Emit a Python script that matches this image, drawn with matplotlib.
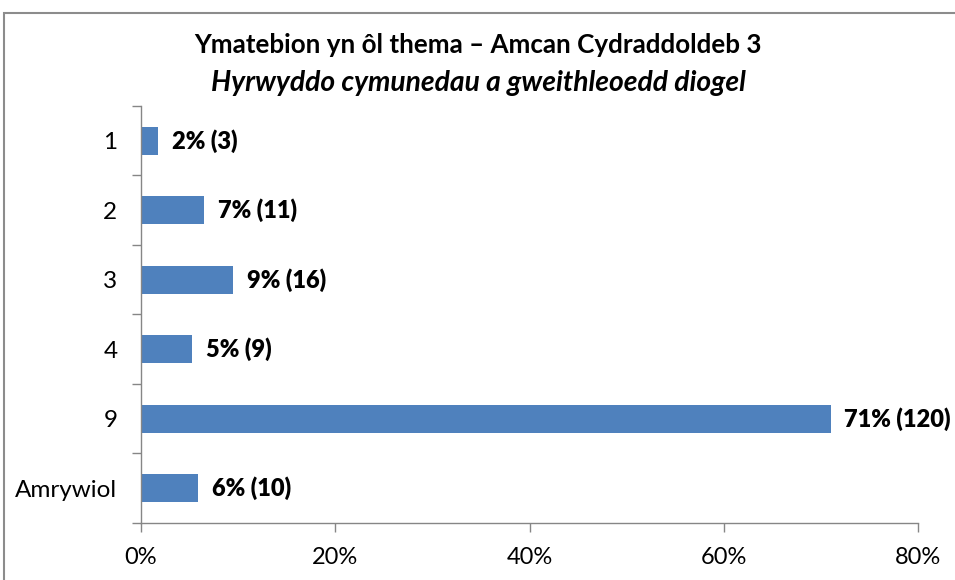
import matplotlib
matplotlib.use("Agg")
import matplotlib.pyplot as plt
from matplotlib.patches import Rectangle

# data
categories = ["1", "2", "3", "4", "9", "Amrywiol"]
percent = [1.8, 6.5, 9.5, 5.3, 71.0, 5.9]
pct_labels = ["2%", "7%", "9%", "5%", "71%", "6%"]
counts = [3, 11, 16, 9, 120, 10]

title_main = "Ymatebion yn ôl thema – Amcan Cydraddoldeb 3"
title_sub = "Hyrwyddo cymunedau a gweithleoedd diogel"

plt.rcParams["font.family"] = ["Lato", "DejaVu Sans"]

fig = plt.figure(figsize=(9.55, 5.8), dpi=100)
ax = fig.add_axes([141 / 955, 1 - 523 / 580, (918 - 141) / 955, (523 - 106) / 580])

# outer chart frame (cropped on right / bottom)
fig.patches.append(Rectangle((4 / 955, -0.1), 1.2, (580 - 13) / 580 + 0.1,
                             transform=fig.transFigure, fill=False,
                             edgecolor="#8c8c8c", linewidth=1.5))

y = list(range(len(categories)))
ax.barh(y, percent, height=0.4, color="#4f81bd")

for yi, p, lab, c in zip(y, percent, pct_labels, counts):
    ax.annotate(f"{lab} ({c})", (p, yi), xytext=(10, 0), textcoords="offset points",
                va="center", ha="left", fontsize=17, fontweight="heavy")

ax.set_xlim(0, 80)
ax.set_ylim(len(categories) - 0.5, -0.5)
ax.set_xticks([0, 20, 40, 60, 80])
ax.set_xticklabels(["0%", "20%", "40%", "60%", "80%"], fontsize=17)

ax.set_yticks([i - 0.5 for i in range(len(categories) + 1)])
ax.set_yticklabels([])
ax.set_yticks(y, minor=True)
ax.set_yticklabels(categories, minor=True, fontsize=17.5)

ax.tick_params(axis="x", which="major", length=6.5, width=1, color="#868686", pad=11)
ax.tick_params(axis="y", which="major", length=6.5, width=1, color="#868686")
ax.tick_params(axis="y", which="minor", length=0, pad=17)

for s in ["top", "right"]:
    ax.spines[s].set_visible(False)
for s in ["left", "bottom"]:
    ax.spines[s].set_color("#868686")
    ax.spines[s].set_linewidth(1)

fig.text(478 / 955, 1 - 45 / 580, title_main, ha="center", va="center",
         fontsize=18.7, fontweight="bold")
fig.text(478 / 955, 1 - 83 / 580, title_sub, ha="center", va="center",
         fontsize=20.3, fontweight="bold", style="italic")

fig.savefig("out.png", dpi=100)
